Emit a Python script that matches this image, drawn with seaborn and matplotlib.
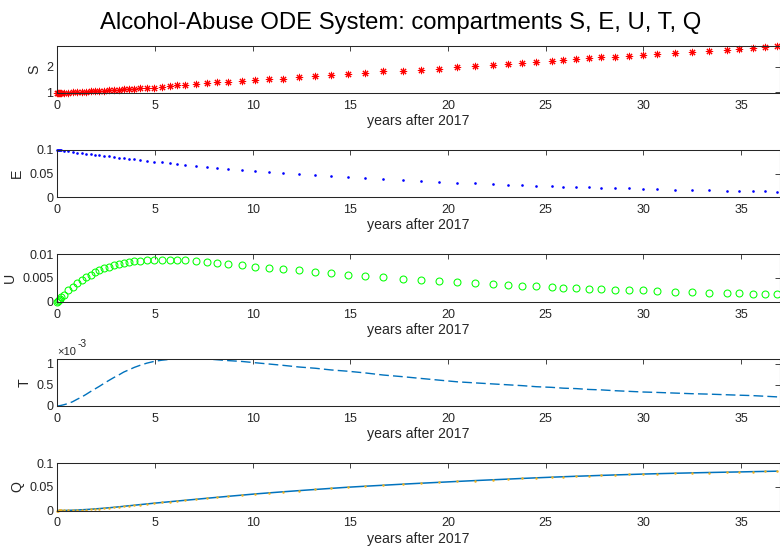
import matplotlib
matplotlib.use("Agg")
import matplotlib.pyplot as plt
from matplotlib.ticker import FixedLocator, FuncFormatter
import pandas as pd
import seaborn as sns

# Solver output times (years after 2017)
years = [0, 0.03, 0.07, 0.12, 0.2, 0.34, 0.56, 0.78, 1.02, 1.24, 1.46, 1.70,
         1.92, 2.14, 2.38, 2.63, 2.89, 3.14, 3.40, 3.65, 3.94, 4.24, 4.58, 4.94,
         5.35, 5.76, 6.15, 6.54, 7.10, 7.64, 8.20, 8.76, 9.46, 10.14, 10.83,
         11.53, 12.36, 13.21, 14.02, 14.87, 15.76, 16.69, 17.71, 18.61, 19.54,
         20.48, 21.39, 22.31, 23.06, 23.80, 24.52, 25.30, 25.91, 26.57, 27.22,
         27.84, 28.57, 29.29, 29.98, 30.71, 31.60, 32.48, 33.36, 34.26, 34.91,
         35.59, 36.23, 36.86]

S_vals = [0.96, 0.962, 0.964, 0.966, 0.97, 0.977, 0.987, 0.997, 1.008, 1.018,
          1.028, 1.038, 1.048, 1.058, 1.068, 1.079, 1.090, 1.101, 1.112, 1.123,
          1.136, 1.150, 1.165, 1.182, 1.22, 1.233, 1.27, 1.30, 1.337, 1.35,
          1.39, 1.40, 1.44, 1.47, 1.51, 1.53, 1.585, 1.62, 1.66, 1.70, 1.75,
          1.81, 1.845, 1.871, 1.91, 1.988, 2.04, 2.08, 2.105, 2.145, 2.17,
          2.22, 2.25, 2.29, 2.33, 2.37, 2.39, 2.43, 2.46, 2.48, 2.535, 2.57,
          2.61, 2.665, 2.69, 2.73, 2.77, 2.81]

E_vals = [0.1000, 0.0998, 0.0996, 0.0993, 0.0989, 0.0981, 0.0968, 0.0956,
          0.0943, 0.0931, 0.0919, 0.0907, 0.0895, 0.0884, 0.0872, 0.0860,
          0.0847, 0.0835, 0.0823, 0.0811, 0.0797, 0.0784, 0.0769, 0.0753,
          0.0736, 0.0718, 0.0703, 0.0688, 0.0666, 0.0645, 0.0625, 0.0605,
          0.0581, 0.0558, 0.0537, 0.0515, 0.0491, 0.0468, 0.0447, 0.0426,
          0.0405, 0.0384, 0.0363, 0.0345, 0.0327, 0.0310, 0.0295, 0.0279,
          0.0268, 0.0257, 0.0246, 0.0236, 0.0227, 0.0219, 0.0211, 0.0203,
          0.0195, 0.0187, 0.0180, 0.0173, 0.0164, 0.0157, 0.0149, 0.0142,
          0.0137, 0.0131, 0.0127, 0.0122]

U_vals = [0.0, 0.00015, 0.00035, 0.0006, 0.0009, 0.0015, 0.0024, 0.0032,
          0.0040, 0.0046, 0.0052, 0.0057, 0.0062, 0.0066, 0.0070, 0.0074,
          0.0077, 0.0080, 0.0082, 0.0084, 0.0085, 0.0086, 0.0087, 0.0088,
          0.0088, 0.0088, 0.0087, 0.0087, 0.0085, 0.0083, 0.0082, 0.0080,
          0.0077, 0.0074, 0.0072, 0.0069, 0.0066, 0.0063, 0.0060, 0.0057,
          0.0054, 0.0051, 0.0048, 0.0046, 0.0044, 0.0042, 0.0039, 0.0037,
          0.0036, 0.0034, 0.0033, 0.0031, 0.0029, 0.0029, 0.0027, 0.0027,
          0.0025, 0.0024, 0.0024, 0.0022, 0.0021, 0.0021, 0.0019, 0.0019,
          0.0018, 0.0017, 0.0017, 0.0016]

T_vals = [0.0, 0.000001, 0.000004, 0.000008, 0.000015, 0.00003, 0.00006,
          0.00010, 0.00016, 0.00021, 0.00027, 0.00034, 0.00040, 0.00046,
          0.00053, 0.00060, 0.00067, 0.00073, 0.00080, 0.00085, 0.00091,
          0.00096, 0.00101, 0.00105, 0.00108, 0.00110, 0.00111, 0.00112,
          0.00112, 0.00111, 0.00109, 0.00107, 0.00105, 0.00102, 0.00099,
          0.00096, 0.00092, 0.00089, 0.00085, 0.00082, 0.00078, 0.00073,
          0.00069, 0.00065, 0.00061, 0.00057, 0.000545, 0.00052, 0.00050,
          0.00048, 0.000455, 0.00044, 0.00042, 0.00041, 0.00039, 0.00038,
          0.00036, 0.000345, 0.00033, 0.00032, 0.000305, 0.00029, 0.00028,
          0.000265, 0.000255, 0.000245, 0.00023, 0.000215]

Q_vals = [0.0, 0.0, 0.00001, 0.00002, 0.00005, 0.00012, 0.0003, 0.0006,
          0.0010, 0.0015, 0.0020, 0.0026, 0.0033, 0.0040, 0.0048, 0.0057,
          0.0067, 0.0077, 0.0088, 0.0099, 0.0111, 0.0124, 0.0138, 0.0153,
          0.0169, 0.0185, 0.0200, 0.0215, 0.0236, 0.0257, 0.0278, 0.0299,
          0.0324, 0.0349, 0.0371, 0.0393, 0.0418, 0.0443, 0.0466, 0.0490,
          0.0511, 0.0532, 0.0555, 0.0574, 0.0593, 0.0612, 0.0630, 0.0647,
          0.0661, 0.0675, 0.0688, 0.0701, 0.0711, 0.0721, 0.0730, 0.0739,
          0.0749, 0.0758, 0.0767, 0.0775, 0.0784, 0.0792, 0.0800, 0.0807,
          0.0812, 0.0818, 0.0823, 0.0828]

x_ticks = [0, 5, 10, 15, 20, 25, 30, 35]
S_ticks = [1, 2]
E_ticks = [0, 0.05, 0.1]
U_ticks = [0, 0.005, 0.01]
T_ticks = [0, 0.0005, 0.001]
Q_ticks = [0, 0.05, 0.1]

df = pd.DataFrame({"t": years, "S": S_vals, "E": E_vals, "U": U_vals,
                   "T": T_vals, "Q": Q_vals})

sns.set_theme(style="white")
plt.rcParams["font.family"] = ["Liberation Sans", "DejaVu Sans"]
plt.rcParams["axes.unicode_minus"] = False

INK = "#262626"
TICK_FS = 9.0
LABEL_FS = 10.2

fig = plt.figure(figsize=(7.8, 5.5), dpi=100)
W, H = 780.0, 550.0
left = 57.3 / W
width = 722.2 / W
height = 47.5 / H
bottoms_px = [93.3, 197.3, 301.7, 406.0, 510.5]
axes = [fig.add_axes([left, 1 - b / H, width, height]) for b in bottoms_px]
ax_s, ax_e, ax_u, ax_t, ax_q = axes

common = dict(data=df, x="t", estimator=None, sort=False, errorbar=None)

# S: red asterisks
sns.lineplot(**common, y="S", ax=ax_s, color="#ff0000", linestyle="",
             marker=(8, 2, 0), markersize=5.2, markeredgecolor="#ff0000",
             markeredgewidth=0.75, clip_on=False)
# E: blue points
sns.lineplot(**common, y="E", ax=ax_e, color="#0000ff", linestyle="",
             marker="o", markersize=1.9, markeredgecolor="#0000ff",
             markeredgewidth=0, clip_on=False)
# U: green open circles
sns.lineplot(**common, y="U", ax=ax_u, color="#00ff00", linestyle="",
             marker="o", markersize=5.0, markerfacecolor="none",
             markeredgecolor="#00ff00", markeredgewidth=0.75, clip_on=False)
# T: dashed line
sns.lineplot(**common, y="T", ax=ax_t, color="#0072bd", linewidth=1.0,
             linestyle=(0, (7, 3)))
# Q: solid line with point markers on top
sns.lineplot(**common, y="Q", ax=ax_q, color="#0072bd", linewidth=1.1)
sns.lineplot(**common, y="Q", ax=ax_q, color="#edb120", linestyle="",
             marker="o", markersize=1.8, markeredgecolor="#edb120",
             markeredgewidth=0, clip_on=False)

fmt = FuncFormatter(lambda v, p: f"{v:g}")
panels = [
    (ax_s, "S", S_ticks, (min(S_vals), max(S_vals)), fmt),
    (ax_e, "E", E_ticks, (0, 0.1), fmt),
    (ax_u, "U", U_ticks, (0, 0.01), fmt),
    (ax_t, "T", T_ticks, (0, max(T_vals)), FuncFormatter(lambda v, p: f"{v * 1000:g}")),
    (ax_q, "Q", Q_ticks, (0, 0.1), fmt),
]

for ax, name, yt, ylim, yfmt in panels:
    ax.set_xlim(0, 36.97)
    ax.set_ylim(*ylim)
    ax.xaxis.set_major_locator(FixedLocator(x_ticks))
    ax.xaxis.set_major_formatter(fmt)
    ax.yaxis.set_major_locator(FixedLocator(yt))
    ax.yaxis.set_major_formatter(yfmt)
    ax.tick_params(direction="in", length=3.6, width=0.6, top=True,
                   right=True, labelsize=TICK_FS, colors=INK)
    ax.tick_params(axis="x", pad=5.0)
    ax.tick_params(axis="y", pad=2.8)
    for sp in ax.spines.values():
        sp.set_color(INK)
        sp.set_linewidth(0.75)
        sp.set_visible(True)
    ax.set_xlabel("years after 2017", fontsize=LABEL_FS, color=INK, labelpad=1.5)
    ax.set_ylabel(name, fontsize=LABEL_FS, color=INK, labelpad=3.5)
    ax.set_facecolor("white")

# exponent for the T panel
ax_t.text(0.0, 1.03, "\u00d710", transform=ax_t.transAxes,
          ha="left", va="bottom", fontsize=8.0, color=INK)
ax_t.text(0.0275, 1.19, "-3", transform=ax_t.transAxes,
          ha="left", va="bottom", fontsize=7.4, color=INK)

fig.text(401 / W, 1 - 29 / H, "Alcohol-Abuse ODE System: compartments S, E, U, T, Q",
         ha="center", va="baseline", fontsize=17.2, color="black")

fig.savefig("out.png", dpi=100, facecolor="white")
